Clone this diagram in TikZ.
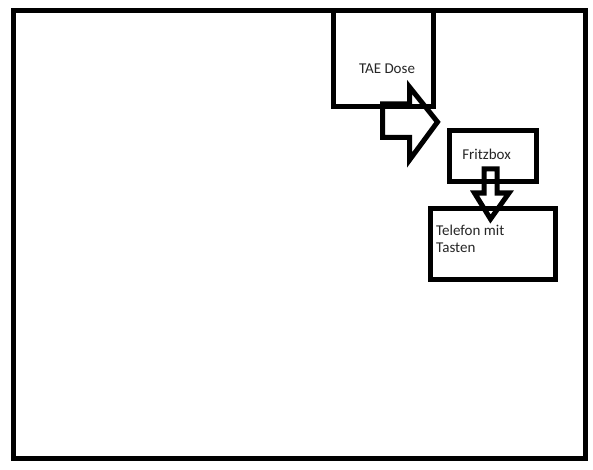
\documentclass[tikz,border=0pt]{standalone}
\usepackage{fontspec}
\setmainfont{Carlito}
\begin{document}
\begin{tikzpicture}[x=1pt,y=-1pt,
  thick line/.style={line width=5pt, draw=black},
  boxnode/.style={thick line, rectangle, inner sep=0pt, minimum width=#1},
  lbl/.style={inner sep=0pt, font=\fontsize{15}{17.5}\selectfont, text=black!85},
  blockarrow/.style={thick line, line join=miter}]
\path[fill=white,use as bounding box] (0,0) rectangle (593,470);
% outer frame
\node[thick line, rectangle, inner sep=0pt, minimum width=572pt, minimum height=448pt] (frame) at (299.5,234.5) {};
% boxes
\node[boxnode=100pt, minimum height=96.5pt] (tae) at (383.5,58.75) {};
\node[boxnode=87pt, minimum height=51pt] (fritz) at (493,156.5) {};
\node[boxnode=125pt, minimum height=71pt] (tel) at (493,244) {};
% labels
\node[lbl, anchor=base] (taetext) at (387,74) {TAE Dose};
\node[lbl, anchor=base] (fritztext) at (486.5,159.5) {Fritzbox};
\node[lbl, anchor=base west] (teltext) at (436,235) {Telefon mit};
\node[lbl, anchor=base west] (teltext2) at (436,252.5) {Tasten};
% block arrow TAE -> Fritzbox
\draw[blockarrow] (382.5,104) -- (409.5,104) -- (409.5,87) -- (437.5,122) -- (409.5,160) -- (409.5,137.5) -- (382.5,137.5) -- cycle;
% block arrow Fritzbox -> Telefon
\draw[blockarrow] (484,169) -- (497,169) -- (497,193) -- (509,193) -- (490.5,219) -- (474.5,193) -- (484,193) -- cycle;
\end{tikzpicture}
\end{document}
